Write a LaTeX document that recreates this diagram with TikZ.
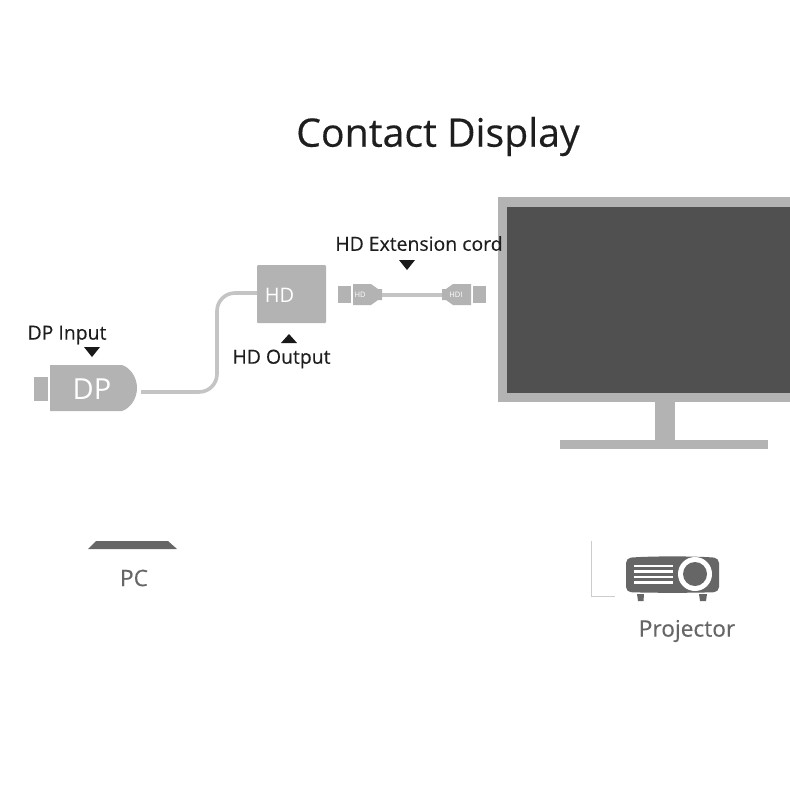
\documentclass[tikz,border=0pt]{standalone}
\usepackage{fontspec}
\setmainfont{Open Sans}
\newfontfamily\heavyfont[FakeBold=0.35]{Open Sans}
\newfontfamily\midfont[FakeBold=0.2]{Open Sans}
\definecolor{plug}{HTML}{B3B3B3}
\definecolor{cablec}{HTML}{C4C4C4}
\definecolor{screenc}{HTML}{505050}
\definecolor{greyt}{HTML}{666666}
\definecolor{ink}{HTML}{1E1E1E}
\tikzset{
  x=1pt,y=-1pt,
  lbl/.style={inner sep=0pt,text=ink,font=\midfont\fontsize{19.4}{22}\selectfont},
  lblg/.style={inner sep=0pt,text=greyt,font=\midfont\fontsize{22.7}{25}\selectfont},
  inplug/.style={inner sep=0pt,text=white},
  tri/.style={fill=black!90,draw=none},
  cable/.style={draw=cablec,line width=3.6pt},
  plugfill/.style={fill=plug,draw=none},
}
\begin{document}
\begin{tikzpicture}
\useasboundingbox (0,0) rectangle (790,790);
\fill[white] (0,0) rectangle (790,790);
\node[inner sep=0pt,text=ink,font=\heavyfont\fontsize{39.2}{44}\selectfont] (title) at (438,136.5) {Contact Display};
% monitor
\fill[plug] (498,197) rectangle (790,402);
\fill[screenc] (507,207) rectangle (790,393);
\fill[plug] (655,402) rectangle (675,441);
\fill[plug] (560,440) rectangle (768,449);
% DP plug
\fill[plugfill] (34,377) rectangle (48,401);
\fill[plugfill] (50,365) -- (122,365) .. controls (131,368) and (137,378) .. (137,388) .. controls (137,398) and (131,408) .. (122,411) -- (50,411) -- cycle;
\node[inplug,font=\fontsize{29}{31}\selectfont] (dp) at (92,389.5) {DP};
\coordinate (dpout) at (141,392);
% HD box
\node[fill=plug,minimum width=69pt,minimum height=58pt,inner sep=0pt,rounded corners=1pt] (hdbox) at (291.5,294) {};
\node[inplug,font=\fontsize{20}{22}\selectfont] (hdt) at (279.5,295) {HD};
\coordinate (hdin) at (257,293);
\draw[cable,rounded corners=18pt] (dpout) -- (217,392) -- (217,293) -- (hdin);
% labels
\node[lbl] (dpin) at (67,335) {DP Input};
\node[lbl] (hdo) at (281.5,359) {HD Output};
\node[lbl] (ext) at (419,243.5) {HD Extension cord};
\fill[tri] (84,347) -- (100,347) -- (92,357) -- cycle;
\fill[tri] (281,343) -- (297,343) -- (289,334) -- cycle;
\fill[tri] (399,260) -- (415,260) -- (407,270) -- cycle;
% cord
\fill[plugfill] (338,286) rectangle (351,303);
\fill[plugfill] (353,284) -- (371,284) -- (378,289) -- (382,289) -- (382,300) -- (378,300) -- (371,305) -- (353,305) -- cycle;
\fill[plugfill] (473,286) rectangle (486,303);
\fill[plugfill] (471,284) -- (453,284) -- (446,289) -- (442,289) -- (442,300) -- (446,300) -- (453,305) -- (471,305) -- cycle;
\node[inplug,font=\fontsize{7.5}{8}\selectfont] (hl) at (360,295) {HD};
\node[inplug,font=\fontsize{7.5}{8}\selectfont] (hr) at (456,295) {HDI};
\coordinate (cl) at (382,295);
\coordinate (cr) at (442,295);
\draw[draw=cablec,line width=3.6pt] (cl) -- (cr);
% PC
\fill[greyt] (88,549) -- (96,541) -- (168,541) -- (177,549) -- cycle;
\node[lblg] (pc) at (134,578) {PC};
% projector
\draw[draw=black!20,line width=0.7pt] (591,541) -- (591,596) -- (615,596);
\fill[greyt,rounded corners=5pt] (626,558) .. controls (650,556) and (695,556) .. (719,558) -- (719,592) .. controls (695,593) and (650,593) .. (626,592) -- cycle;
\fill[white] (695,574) circle (17);
\fill[greyt] (695,574) circle (12);
\foreach \yy in {566,571.5,577,582.5} \fill[white] (634,\yy-1.2) rectangle (673,\yy+1.2);
\fill[greyt] (637,594) -- (644,594) -- (643.5,601) -- (638,601) -- cycle;
\fill[greyt] (699,594) -- (707,594) -- (706,601) -- (700,601) -- cycle;
\node[lblg] (proj) at (687,631) {Projector};
\end{tikzpicture}
\end{document}
